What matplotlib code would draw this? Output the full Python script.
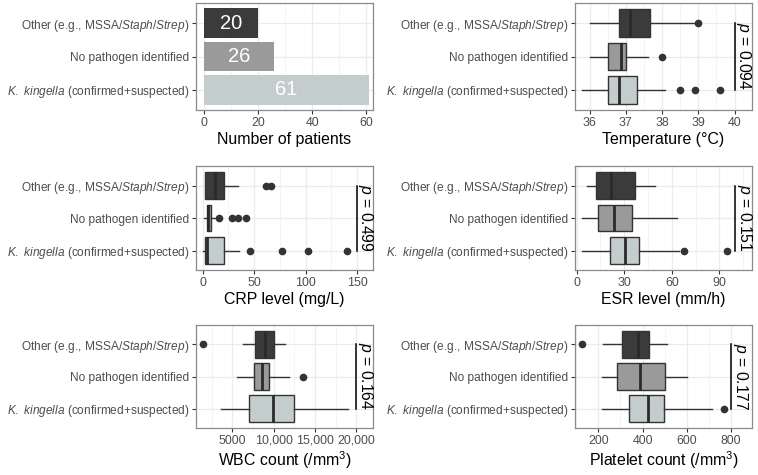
import matplotlib
matplotlib.use("Agg")
import matplotlib.pyplot as plt
from matplotlib.ticker import AutoMinorLocator

plt.rcParams['font.family'] = ['Liberation Sans', 'DejaVu Sans']
plt.rcParams['mathtext.fontset'] = 'custom'
plt.rcParams['mathtext.rm'] = 'Liberation Sans'
plt.rcParams['mathtext.it'] = 'Liberation Sans:italic'

# groups, bottom to top
groups = ["$K.\\ kingella$ (confirmed+suspected)",
          "No pathogen identified",
          "Other (e.g., MSSA/$Staph$/$Strep$)"]
fills = ["#c3cdcd", "#9a9a9a", "#3b3b3b"]

counts = [61, 26, 20]

# box summaries per group: [whisker low, q1, median, q3, whisker high]
temp_stats = [[35.8, 36.5, 36.8, 37.31, 38.09],
              [36.0, 36.5, 36.86, 37.01, 37.6],
              [36.0, 36.8, 37.12, 37.67, 38.95]]
temp_fliers = [[38.5, 38.9, 39.6], [38.0], [39.0]]

crp_stats = [[0.5, 2.6, 4.3, 20.3, 35.4],
             [1.0, 3.9, 5.6, 8.2, 11.5],
             [2.6, 2.6, 12.1, 20.7, 34.4]]
crp_fliers = [[45.9, 77.0, 102.6, 140.3], [15.4, 28.5, 34.4, 42.6], [61.3, 66.6]]

esr_stats = [[3.6, 21.0, 30.5, 39.4, 64.2],
             [3.6, 13.3, 23.8, 34.7, 63.2],
             [6.7, 12.0, 21.7, 36.8, 49.5]]
esr_fliers = [[67.4, 94.7], [], []]

wbc_stats = [[3680, 7000, 9950, 12480, 18920],
             [5520, 7600, 8520, 9480, 11800],
             [6320, 7720, 9000, 10000, 11400]]
wbc_fliers = [[], [13520], [1400]]

plt_stats = [[215, 340, 426, 497, 712],
             [215, 286, 388, 501, 602],
             [220, 305, 381, 430, 512]]
plt_fliers = [[769], [], [125]]

p_values = {"temp": "0.094", "crp": "0.499", "esr": "0.151", "wbc": "0.164", "plt": "0.177"}

fig = plt.figure(figsize=(7.58, 4.75), dpi=100)
W, H = 758, 475


def make_ax(left, top, bottom):
    return fig.add_axes([left / W, 1 - bottom / H, 177 / W, (bottom - top) / H])


def style(ax, xlim, xlabel):
    ax.set_xlim(*xlim)
    ax.set_ylim(0.4, 3.6)
    ax.set_yticks([1, 2, 3])
    ax.set_yticklabels(groups)
    ax.xaxis.set_minor_locator(AutoMinorLocator(2))
    ax.set_axisbelow(True)
    ax.grid(which='major', color='#ebebeb', lw=0.9)
    ax.grid(which='minor', axis='x', color='#f3f3f3', lw=0.6)
    ax.tick_params(which='major', length=3, width=0.8, color='#333333',
                   labelsize=8.9, labelcolor='#4d4d4d', pad=2)
    ax.tick_params(axis='y', labelsize=8.6)
    ax.tick_params(which='minor', length=0)
    for s in ax.spines.values():
        s.set_color('#8a8a8a')
        s.set_linewidth(0.9)
    ax.set_xlabel(xlabel, fontsize=11.4, labelpad=2, color='black')


def box_panel(ax, stats, fliers, xlim, xlabel, pline, ptext, xticks, xticklabels):
    bstats = []
    for s, f in zip(stats, fliers):
        bstats.append(dict(whislo=s[0], q1=s[1], med=s[2], q3=s[3], whishi=s[4], fliers=f))
    res = ax.bxp(bstats, positions=[1, 2, 3], widths=0.82, orientation='horizontal',
                 patch_artist=True, showcaps=False,
                 boxprops=dict(edgecolor='#333333', linewidth=1.0),
                 medianprops=dict(color='#2a2a2a', linewidth=2.0),
                 whiskerprops=dict(color='#333333', linewidth=1.0),
                 flierprops=dict(marker='o', markerfacecolor='#333333',
                                 markeredgecolor='#333333', markersize=4.5))
    for patch, c in zip(res['boxes'], fills):
        patch.set_facecolor(c)
    style(ax, xlim, xlabel)
    ax.set_xticks(xticks)
    ax.set_xticklabels(xticklabels)
    ax.xaxis.set_minor_locator(AutoMinorLocator(2))
    ax.plot([pline, pline], [1, 3], color='black', lw=1.1)
    ax.annotate("$p$ = " + ptext, xy=(pline, 2), xytext=(6.5, 0), textcoords='offset points',
                rotation=270, ha='center', va='center', fontsize=11.3)


# bar chart
ax1 = make_ax(196, 3, 110)
ax1.barh([1, 2, 3], counts, height=0.88, color=fills)
for y, v in zip([1, 2, 3], counts):
    ax1.text(v / 2, y, str(v), color='white', ha='center', va='center', fontsize=14.5)
style(ax1, (-3.05, 62.6), "Number of patients")
ax1.set_xticks([0, 20, 40, 60])
ax1.xaxis.set_minor_locator(AutoMinorLocator(2))

ax2 = make_ax(575, 3, 110)
box_panel(ax2, temp_stats, temp_fliers, (35.6, 40.48), "Temperature (°C)", 40, p_values["temp"],
          [36, 37, 38, 39, 40], ["36", "37", "38", "39", "40"])

ax3 = make_ax(196, 166, 270)
box_panel(ax3, crp_stats, crp_fliers, (-6.5, 165.6), "CRP level (mg/L)", 150, p_values["crp"],
          [0, 50, 100, 150], ["0", "50", "100", "150"])

ax4 = make_ax(575, 166, 270)
box_panel(ax4, esr_stats, esr_fliers, (-1.0, 110.5), "ESR level (mm/h)", 100, p_values["esr"],
          [0, 30, 60, 90], ["0", "30", "60", "90"])

ax5 = make_ax(196, 325, 428)
box_panel(ax5, wbc_stats, wbc_fliers, (600, 22000), "WBC count (/mm$^3$)", 20000, p_values["wbc"],
          [5000, 10000, 15000, 20000], ["5000", "10,000", "15,000", "20,000"])

ax6 = make_ax(575, 325, 428)
box_panel(ax6, plt_stats, plt_fliers, (95, 894), "Platelet count (/mm$^3$)", 800, p_values["plt"],
          [200, 400, 600, 800], ["200", "400", "600", "800"])

fig.savefig("out.png", dpi=100)
